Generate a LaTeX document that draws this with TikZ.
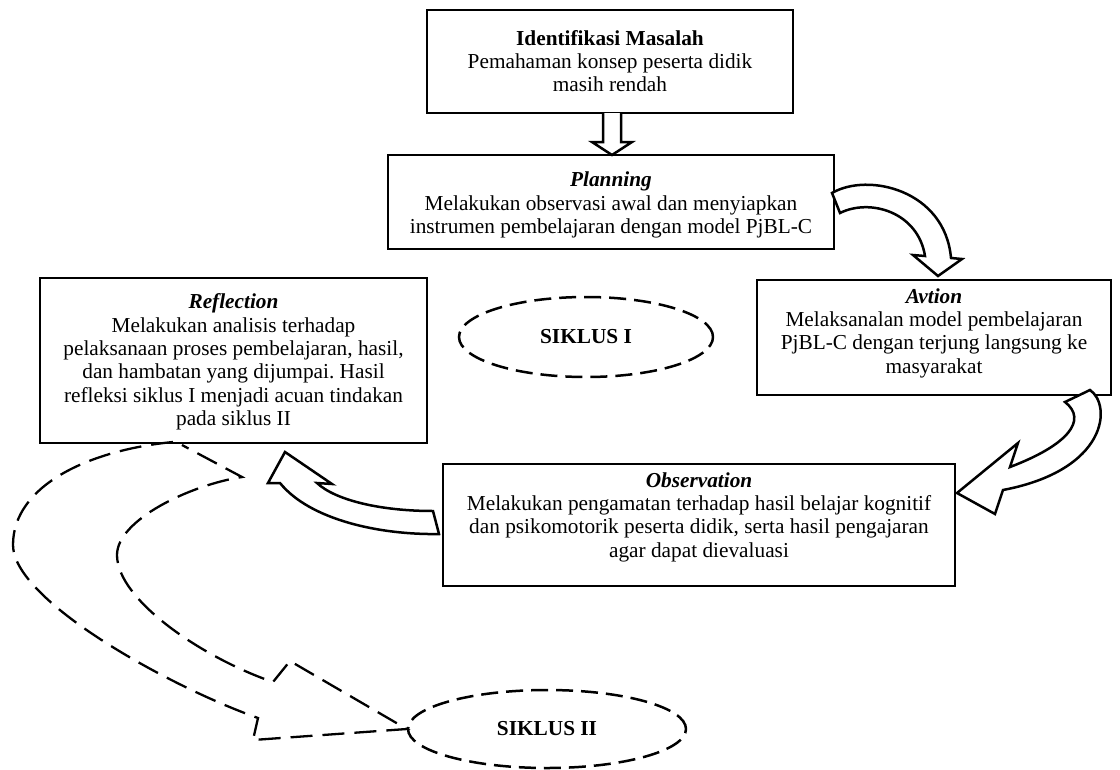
\documentclass[tikz,border=0pt]{standalone}
\usepackage{fontspec}
\setmainfont{Liberation Serif}
\usetikzlibrary{shapes.geometric,calc}
\frenchspacing
\begin{document}
\begin{tikzpicture}[x=1pt,y=-1pt,
  every node/.style={font=\fontsize{21.3}{23.3}\selectfont},
  box/.style={draw, line width=2.6pt, inner sep=0pt},
  txt/.style={align=center, inner sep=0pt},
  hollow/.style={draw, line width=2.5pt, fill=white, line join=miter},
  cyc/.style={draw, ellipse, line width=2.5pt, dash pattern=on 17pt off 8pt, inner sep=0pt, font=\fontsize{21.3}{23.3}\selectfont\bfseries},
  bigdash/.style={draw, line width=2.3pt, dash pattern=on 22pt off 10pt}
]
\useasboundingbox (0,0) rectangle (1120,769);

% boxes
\node[box, minimum width=366pt, minimum height=103pt] (ident) at (610,61.5) {};
\node[txt] (identtext) at (610,61) {\textbf{Identifikasi Masalah}\\Pemahaman konsep peserta didik\\masih rendah};

\node[box, minimum width=446pt, minimum height=94pt] (plan) at (611,202) {};
\node[txt] (plantext) at (611,205) {\textbf{\textit{Planning}}\\Melakukan observasi awal dan menyiapkan\\instrumen pembelajaran dengan model PjBL-C};

\node[box, minimum width=387pt, minimum height=165pt] (refl) at (233.5,360.5) {};
\node[txt] (refltext) at (233.5,362) {\textbf{\textit{Reflection}}\\Melakukan analisis terhadap\\pelaksanaan proses pembelajaran, hasil,\\dan hambatan yang dijumpai. Hasil\\refleksi siklus I menjadi acuan tindakan\\pada siklus II};

\node[box, minimum width=354pt, minimum height=115pt] (act) at (934,337.5) {};
\node[txt] (acttext) at (934,333) {\textbf{\textit{Avtion}}\\Melaksanalan model pembelajaran\\PjBL-C dengan terjung langsung ke\\masyarakat};

\node[box, minimum width=512pt, minimum height=122pt] (obs) at (699,525) {};
\node[txt] (obstext) at (699,517) {\textbf{\textit{Observation}}\\Melakukan pengamatan terhadap hasil belajar kognitif\\dan psikomotorik peserta didik, serta hasil pengajaran\\agar dapat dievaluasi};

% cycles
\node[cyc, minimum width=254pt, minimum height=80pt] (s1) at (586,337) {SIKLUS I};
\node[cyc, minimum width=278pt, minimum height=78pt] (s2) at (547,729) {SIKLUS II};

% hollow arrow ident -> plan
\draw[hollow] (603,113) -- (603,142) -- (592,142) -- (612,155) -- (632,142) -- (621,142) -- (621,113);

% plan -> action
\draw[hollow] (832,193) .. controls (868,172) and (945,190) .. (951,258)
  -- (962,259) -- (938,276) -- (913,255) -- (925,256)
  .. controls (918,212) and (870,198) .. (840,213) -- cycle;

% action -> observation
\draw[hollow] (1090,390) .. controls (1112,405) and (1108,470) .. (1003,490)
  -- (995,514) -- (957,493) -- (1018,443) -- (1010,467)
  .. controls (1068,445) and (1088,420) .. (1065,402) -- cycle;

% observation -> reflection
\draw[hollow] (433,511) .. controls (380,511) and (335,500) .. (317,483)
  -- (332,484) -- (285,452) -- (268,483) -- (280,483)
  .. controls (310,520) and (380,535) .. (439,534) -- cycle;

% dashed arrow to siklus II
\draw[bigdash] (173,442) .. controls (90,450) and (13,485) .. (13,545)
  .. controls (13,600) and (168,686) .. (258,718)
  -- (253,740) -- (s2.west) -- (290,661) -- (273,682)
  .. controls (203,658) and (117,600) .. (117,555)
  .. controls (117,520) and (190,485) .. (242,477) -- (182,445);
\end{tikzpicture}
\end{document}
